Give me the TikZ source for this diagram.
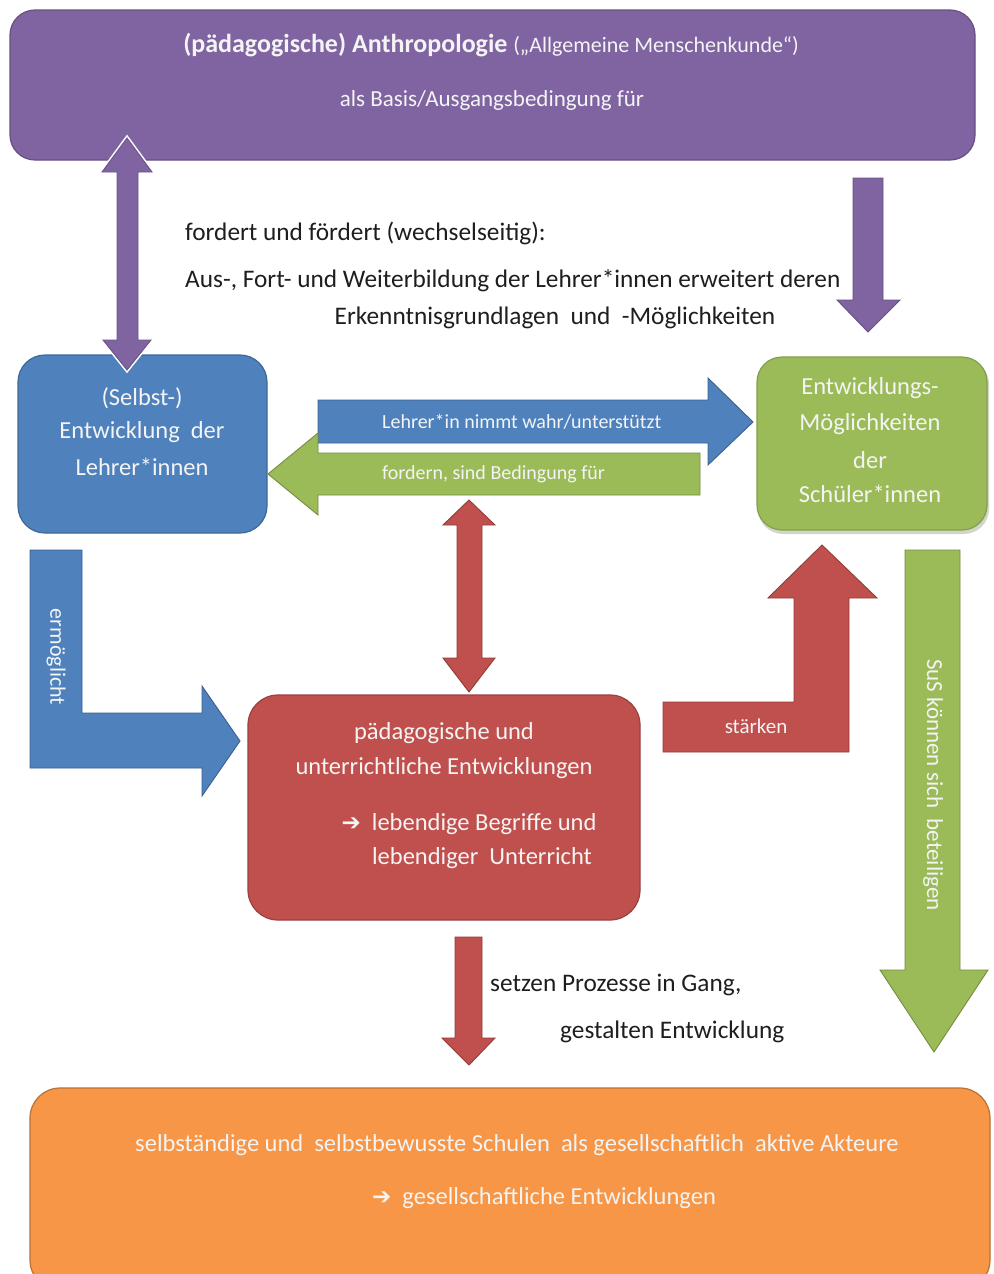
\documentclass[tikz,border=0pt]{standalone}
\usepackage{fontspec}
\setmainfont{Carlito}
\newfontfamily\symfont{DejaVu Sans}
\definecolor{cpurple}{HTML}{8064A2}
\definecolor{cblue}{HTML}{4F81BD}
\definecolor{cgreen}{HTML}{9BBB59}
\definecolor{cred}{HTML}{C0504D}
\definecolor{corange}{HTML}{F79646}
\definecolor{ctext}{HTML}{1E1E1E}
\definecolor{cwhite}{HTML}{F4F4F4}
\newcommand{\arr}{{\symfont\fontsize{23pt}{23pt}\selectfont ➔}}
\tikzset{
  boxshape/.style={rounded corners=#1, line width=1.2pt},
  blockarrow/.style={line width=0.9pt, line join=miter},
  wtext/.style={text=cwhite, inner sep=0pt, font=\fontsize{24.5pt}{28pt}\selectfont},
  wsmall/.style={text=cwhite, inner sep=0pt, font=\fontsize{20pt}{24pt}\selectfont},
  btext/.style={text=ctext, inner sep=0pt, font=\fontsize{25.3pt}{30pt}\selectfont},
}
\begin{document}
\begin{tikzpicture}[x=1pt,y=-1pt]
\useasboundingbox (0,0) rectangle (993,1274);
\clip (0,0) rectangle (993,1274);
\fill[white] (0,0) rectangle (993,1274);

% ---- boxes ----
\draw[boxshape=25pt, fill=cpurple, draw=cpurple!80!black] (10,10) rectangle (975,160);
\coordinate (anth) at (492,85);
\draw[boxshape=27pt, fill=cblue, draw=cblue!80!black] (18,355) rectangle (267,533);
\coordinate (lehrer) at (142,444);
\fill[cgreen!50!black, opacity=0.25, rounded corners=25pt] (758,359) rectangle (989,534);
\draw[boxshape=25pt, fill=cgreen, draw=cgreen!85!black] (757,357) rectangle (987,530);
\coordinate (schueler) at (872,444);
\draw[boxshape=30pt, fill=cred, draw=cred!80!black] (248,695) rectangle (640,920);
\coordinate (unterricht) at (444,808);
\draw[boxshape=30pt, fill=corange, draw=corange!75!black] (30,1088) rectangle (990,1290);
\coordinate (schulen) at (510,1180);

% ---- block arrows ----
% purple double arrow (white glow)
\draw[blockarrow, fill=cpurple, draw=white, line width=4pt]
  (127,138) -- (152,172) -- (138,172) -- (138,340) -- (151,340) -- (127,370)
  -- (103,340) -- (117,340) -- (117,172) -- (102,172) -- cycle;
\draw[blockarrow, fill=cpurple, draw=cpurple!85!black]
  (127,138) -- (152,172) -- (138,172) -- (138,340) -- (151,340) -- (127,370)
  -- (103,340) -- (117,340) -- (117,172) -- (102,172) -- cycle;
% purple down arrow
\draw[blockarrow, fill=cpurple, draw=cpurple!80!black]
  (853,178) -- (883,178) -- (883,300) -- (900,300) -- (868,332) -- (837,300) -- (853,300) -- cycle;
% blue right arrow
\draw[blockarrow, fill=cblue, draw=cblue!75!black]
  (318,400) -- (708,400) -- (708,378) -- (753,422) -- (708,465) -- (708,443) -- (318,443) -- cycle;
% green left arrow
\draw[blockarrow, fill=cgreen, draw=cgreen!75!black]
  (700,453) -- (318,453) -- (318,433) -- (268,474) -- (318,515) -- (318,495) -- (700,495) -- cycle;
% red double arrow
\draw[blockarrow, fill=cred, draw=cred!75!black]
  (469,500) -- (495,525) -- (482,525) -- (482,658) -- (495,658) -- (469,692)
  -- (443,658) -- (457,658) -- (457,525) -- (443,525) -- cycle;
% blue L arrow
\draw[blockarrow, fill=cblue, draw=cblue!75!black]
  (30,550) -- (82,550) -- (82,713) -- (202,713) -- (202,686) -- (240,741)
  -- (202,796) -- (202,768) -- (30,768) -- cycle;
% red L arrow
\draw[blockarrow, fill=cred, draw=cred!75!black]
  (663,702) -- (794,702) -- (794,598) -- (768,598) -- (822,545) -- (877,598)
  -- (849,598) -- (849,752) -- (663,752) -- cycle;
% green down arrow
\draw[blockarrow, fill=cgreen, draw=cgreen!75!black]
  (905,550) -- (960,550) -- (960,970) -- (988,970) -- (934,1052) -- (880,970) -- (905,970) -- cycle;
% red down arrow
\draw[blockarrow, fill=cred, draw=cred!75!black]
  (455,937) -- (482,937) -- (482,1038) -- (495,1038) -- (469,1065) -- (442,1038) -- (455,1038) -- cycle;

% ---- texts ----
\node[wtext, font=\fontsize{26pt}{30pt}\selectfont] (t1) at (491,45) {\textbf{(pädagogische) Anthropologie} {\fontsize{22pt}{26pt}\selectfont(„Allgemeine Menschenkunde“)}};
\node[wtext, font=\fontsize{23pt}{26pt}\selectfont] (t2) at (492,100) {als Basis/Ausgangsbedingung für};

\node[btext, anchor=west] (f1) at (185,233) {fordert und fördert (wechselseitig):};
\node[btext, anchor=west] (f2) at (185,281) {Aus-, Fort- und Weiterbildung\ der Lehrer*innen erweitert deren};
\node[btext] (f3) at (555,318) {Erkenntnisgrundlagen\ \ und\ \ -Möglichkeiten};

\node[wtext] (b1) at (142,398) {(Selbst-)};
\node[wtext] (b2) at (142,432) {Entwicklung\ \ der};
\node[wtext] (b3) at (142,467) {Lehrer*innen};

\node[wtext] (g1) at (870,388) {Entwicklungs-};
\node[wtext] (g2) at (870,424) {Möglichkeiten};
\node[wtext] (g3) at (870,460) {der};
\node[wtext] (g4) at (870,494) {Schüler*innen};

\node[wsmall, anchor=west] (a1) at (382,422) {Lehrer*in nimmt wahr/unterstützt};
\node[wsmall, anchor=west] (a2) at (382,474) {fordern, sind Bedingung für};
\node[wsmall, font=\fontsize{22pt}{24pt}\selectfont, rotate=-90] (a3) at (56,657) {ermöglicht};
\node[wsmall, font=\fontsize{21pt}{24pt}\selectfont] (a4) at (756,726) {stärken};
\node[wsmall, font=\fontsize{23pt}{26pt}\selectfont, rotate=-90] (a5) at (933,785) {SuS können sich\ \ beteiligen};

\node[wtext] (r1) at (444,733) {pädagogische und};
\node[wtext] (r2) at (444,768) {unterrichtliche Entwicklungen};
\node[wtext] (r3) at (469,824) {\arr\ \ lebendige Begriffe und};
\node[wtext] (r4) at (482,858) {lebendiger\ \ Unterricht};

\node[btext, anchor=west] (s1) at (490,985) {setzen Prozesse in Gang,};
\node[btext, anchor=west] (s2) at (560,1032) {gestalten Entwicklung};

\node[wtext] (o1) at (517,1145) {selbständige und\ \ selbstbewusste Schulen\ \ als gesellschaftlich\ \ aktive Akteure};
\node[wtext] (o2) at (544,1198) {\arr\ \ gesellschaftliche Entwicklungen};
\end{tikzpicture}
\end{document}
